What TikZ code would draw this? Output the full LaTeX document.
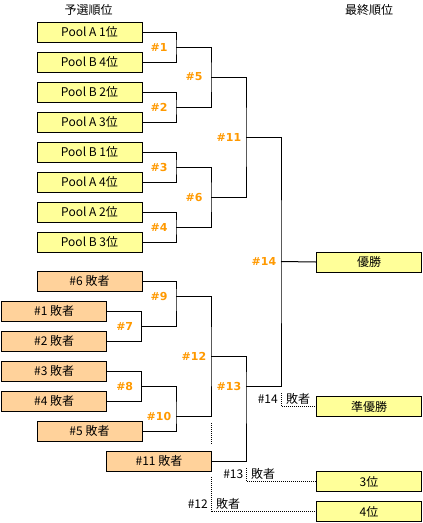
\documentclass[tikz,border=0pt]{standalone}
\usepackage{fontspec}
\setmainfont{Noto Sans CJK JP}
\newfontfamily\numfont{DejaVu Sans}
\usetikzlibrary{positioning}
\definecolor{boxyellow}{HTML}{FFFF99}
\definecolor{boxorange}{HTML}{FFD29B}
\definecolor{numorange}{HTML}{FF9900}

\begin{document}
\begin{tikzpicture}[x=1pt, y=-1pt,
  yelbox/.style={draw=black, line width=1pt, fill=boxyellow, minimum width=105pt, minimum height=20pt, inner sep=0pt, font=\fontsize{12}{14}\selectfont},
  orgbox/.style={yelbox, fill=boxorange},
  num/.style={text=numorange, font=\numfont\bfseries\fontsize{11}{13}\selectfont, inner sep=1pt, xshift=-17pt},
  lbl/.style={font=\fontsize{12}{14}\selectfont, inner sep=1pt},
  wire/.style={draw=black, line width=1pt},
  loser/.style={draw=black, line width=1pt, dash pattern=on 1pt off 1pt}
]
\useasboundingbox (0,0) rectangle (423,523);

\node[lbl] (hleft) at (88.5,10) {予選順位};
\node[lbl] (hright) at (369,10) {最終順位};

\node[yelbox] (pa1) at (89.5,32) {Pool A 1位};
\node[yelbox] (pb4) at (89.5,62) {Pool B 4位};
\node[yelbox] (pb2) at (89.5,92) {Pool B 2位};
\node[yelbox] (pa3) at (89.5,122) {Pool A 3位};
\node[yelbox] (pb1) at (89.5,152) {Pool B 1位};
\node[yelbox] (pa4) at (89.5,182) {Pool A 4位};
\node[yelbox] (pa2) at (89.5,212) {Pool A 2位};
\node[yelbox] (pb3) at (89.5,242) {Pool B 3位};

\node[orgbox] (l6) at (89.5,281.3) {\#6 敗者};
\node[orgbox] (l1) at (54.2,311.3) {\#1 敗者};
\node[orgbox] (l2) at (54.2,341.3) {\#2 敗者};
\node[orgbox] (l3) at (54.2,371.3) {\#3 敗者};
\node[orgbox] (l4) at (54.2,401.3) {\#4 敗者};
\node[orgbox] (l5) at (89.5,431.3) {\#5 敗者};
\node[orgbox] (l11) at (159,461) {\#11 敗者};

\node[yelbox] (win) at (369,262) {優勝};
\node[yelbox] (second) at (369,406.7) {準優勝};
\node[yelbox] (third) at (369,481.7) {3位};
\node[yelbox] (fourth) at (369,511.7) {4位};

\coordinate (m1) at (176,47);
\coordinate (m2) at (176,107);
\coordinate (m3) at (176,167);
\coordinate (m4) at (176,227);
\coordinate (m5) at (211,77);
\coordinate (m6) at (211,197);
\coordinate (m11) at (246,137);
\coordinate (m14) at (281,261.5);
\coordinate (m7) at (141.7,326.3);
\coordinate (m8) at (141.7,386.7);
\coordinate (m9) at (176,296.3);
\coordinate (m10) at (176,416.3);
\coordinate (m12) at (211,356.7);
\coordinate (m13) at (246,386.7);

\draw[wire] (pa1.east) -| (m1) |- (pb4.east);
\draw[wire] (pb2.east) -| (m2) |- (pa3.east);
\draw[wire] (pb1.east) -| (m3) |- (pa4.east);
\draw[wire] (pa2.east) -| (m4) |- (pb3.east);
\draw[wire] (m1) -| (m5) |- (m2);
\draw[wire] (m3) -| (m6) |- (m4);
\draw[wire] (m5) -| (m11) |- (m6);
\draw[wire] (l1.east) -| (m7) |- (l2.east);
\draw[wire] (l3.east) -| (m8) |- (l4.east);
\draw[wire] (l6.east) -| (m9) |- (m7);
\draw[wire] (m8) -| (m10) |- (l5.east);
\draw[wire] (m9) -| (m12) |- (m10);
\draw[wire] (m12) -| (m13) |- (l11.east);
\draw[wire] (m11) -| (m14) |- (m13);
\draw[wire] (m14) -- (win.west);

\node[num] (n1) at (m1) {\#1};
\node[num] (n2) at (m2) {\#2};
\node[num] (n3) at (m3) {\#3};
\node[num] (n4) at (m4) {\#4};
\node[num] (n5) at (m5) {\#5};
\node[num] (n6) at (m6) {\#6};
\node[num] (n7) at (m7) {\#7};
\node[num] (n8) at (m8) {\#8};
\node[num] (n9) at (m9) {\#9};
\node[num] (n10) at (m10) {\#10};
\node[num] (n11) at (m11) {\#11};
\node[num] (n12) at (m12) {\#12};
\node[num] (n13) at (m13) {\#13};
\node[num] (n14) at (m14) {\#14};

\coordinate (d14) at (281.5,393);
\coordinate (d13) at (246.5,468);
\coordinate (d12a) at (211,423);
\coordinate (d12b) at (211,445);
\coordinate (d12) at (211,477);
\draw[loser] (d14) |- (second.west);
\draw[loser] (d13) |- (third.west);
\draw[loser] (d12a) -- (d12b);
\draw[loser] (d12) |- (fourth.west);

\node[lbl, anchor=east] (t14) at (279,399) {\#14};
\node[lbl, anchor=west] (s14) at (285,399) {敗者};
\node[lbl, anchor=east] (t13) at (244.5,474) {\#13};
\node[lbl, anchor=west] (s13) at (250,474) {敗者};
\node[lbl, anchor=east] (t12) at (209,504) {\#12};
\node[lbl, anchor=west] (s12) at (215,504) {敗者};

\end{tikzpicture}
\end{document}
